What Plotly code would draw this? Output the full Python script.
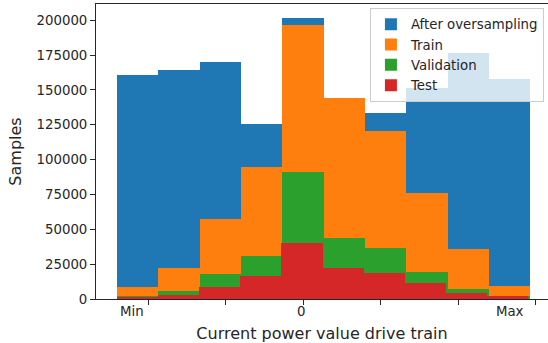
import numpy as np
import plotly.graph_objects as go

# Histogram counts per bin (10 bins)
after_oversampling = [161000, 164000, 170300, 125800, 201400, 144500, 133200, 151200, 176800, 157900]
train = [8800, 22500, 57400, 94700, 196400, 144000, 120600, 75800, 36100, 9300]
validation = [2400, 5700, 18200, 31100, 91400, 43800, 36800, 19400, 7200, 2400]
test = [1200, 3100, 8600, 16500, 40000, 22000, 18900, 11500, 4500, 1900]

# Bin layout on the x value scale (tick marks at -2 .. 3)
main_start, main_width = -2.40, 0.5333
test_start, test_width = -2.40, 0.5305

tick_vals = [-2, -1, 0, 1, 2, 3]
# tick label texts and where they sit on the x scale (they are offset from the marks)
label_text = ["Min", "0", "Max"]
label_pos = [-2.21, -0.02, 2.67]
y_ticks = [0, 25000, 50000, 75000, 100000, 125000, 150000, 175000, 200000]

names = ["After oversampling", "Train", "Validation", "Test"]
colors = ["#1f77b4", "#ff7f0e", "#2ca02c", "#d62728"]
series = [after_oversampling, train, validation, test]

fig = go.Figure()
for name, col, vals in zip(names, colors, series):
    if name == "Test":
        start, width = test_start, test_width
    else:
        start, width = main_start, main_width
    centers = start + width * (np.arange(len(vals)) + 0.5)
    fig.add_trace(go.Bar(
        x=centers, y=vals, width=width, name=name,
        marker=dict(color=col, line=dict(width=0)),
    ))

font = "DejaVu Sans, Arial, sans-serif"
for t, p in zip(label_text, label_pos):
    fig.add_annotation(x=p, xref="x", y=0, yref="paper", yanchor="top",
                       yshift=-3, text=t, showarrow=False,
                       font=dict(family=font, size=13.3, color="#262626"))

fig.update_layout(
    width=548, height=343,
    margin=dict(l=96, r=0, t=4, b=44),
    barmode="overlay", bargap=0,
    plot_bgcolor="white", paper_bgcolor="white",
    font=dict(family=font, size=13.3, color="#262626"),
    showlegend=True,
    legend=dict(
        x=0.991, y=0.986, xanchor="right", yanchor="top",
        bgcolor="rgba(255,255,255,0.8)", bordercolor="#cccccc", borderwidth=1,
        font=dict(size=13.3), tracegroupgap=0,
    ),
    xaxis=dict(
        range=[-2.671, 3.161], tickvals=tick_vals, showticklabels=False,
        ticks="outside", ticklen=5, tickcolor="#262626", tickwidth=1,
        showline=True, linecolor="#262626", linewidth=1, mirror=True,
        showgrid=False, zeroline=False, automargin=False,
        title=dict(text="Current power value drive train", standoff=24),
    ),
    yaxis=dict(
        range=[0, 211700], tickvals=y_ticks, tickformat="d",
        ticks="outside", ticklen=5, tickcolor="#262626", tickwidth=1,
        showline=True, linecolor="#262626", linewidth=1, mirror=False,
        showgrid=False, zeroline=False, automargin=False,
        title=dict(text="Samples", standoff=10),
    ),
)

fig.write_html("out.html", config={"displayModeBar": False},
               post_script="document.body.style.margin='0';")
